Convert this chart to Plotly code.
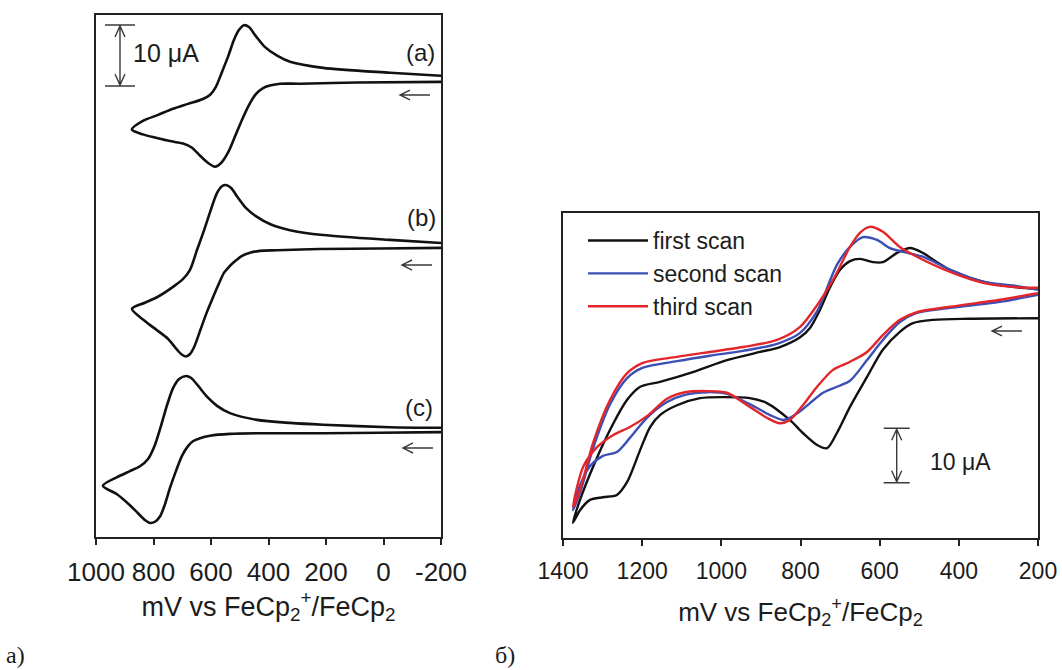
import plotly.graph_objects as go

W, H = 1062, 670

# ---------------- Panel a) : three CVs (a), (b), (c) -----------------
# potential (mV) and current (uA, stacked)
A_E = [-200, 92, 290, 360, 395, 419, 444, 468, 492, 517, 541, 565, 586, 610, 638, 666, 697, 743, 788, 837, 875,
       837, 784, 732, 680, 628, 603, 583, 562, 541, 520, 503, 485, 468, 444, 412, 370, 325, 210, -23, -200]
A_I = [74.6, 74.5, 74.3, 74.3, 74.0, 73.6, 72.6, 70.8, 68.4, 65.6, 63.0, 61.3, 60.7, 61.3, 62.5, 63.8, 64.5, 64.9, 65.4, 66.0, 66.8,
       68.2, 69.2, 70.2, 71.0, 71.8, 72.5, 73.8, 76.2, 78.7, 81.5, 83.1, 83.9, 83.6, 82.1, 80.3, 78.9, 77.9, 76.9, 76.1, 75.6]

B_E = [-200, 12, 221, 370, 430, 464, 492, 517, 537, 555, 572, 593, 614, 638, 659, 673, 687, 704, 725, 750, 788, 830, 875,
       830, 788, 732, 697, 673, 649, 624, 603, 579, 562, 548, 530, 506, 478, 444, 395, 325, 210, -23, -200]
B_I = [47.4, 47.3, 47.2, 47.0, 46.9, 46.6, 46.1, 45.2, 44.3, 43.3, 41.6, 39.3, 36.9, 33.8, 31.1, 30.0, 29.6, 30.0, 31.1, 32.5, 33.9, 35.4, 37.4,
       38.4, 39.3, 41.0, 42.3, 43.8, 47.0, 50.3, 53.3, 56.4, 57.5, 57.7, 57.2, 55.6, 53.9, 52.6, 51.3, 50.3, 49.5, 48.7, 48.2]

C_E = [-200, 12, 210, 325, 440, 534, 603, 638, 663, 680, 701, 722, 743, 760, 777, 795, 812, 830, 854, 882, 927, 976,
       927, 882, 847, 819, 795, 774, 753, 732, 711, 687, 670, 645, 614, 579, 534, 440, 325, 210, -23, -200]
C_I = [17.2, 17.1, 17.0, 17.0, 17.0, 16.9, 16.6, 16.2, 15.7, 14.9, 13.3, 10.8, 8.0, 5.4, 3.4, 2.5, 2.3, 2.8, 3.9, 5.2, 7.0, 8.4,
       9.8, 10.8, 11.6, 12.8, 15.1, 18.2, 21.6, 24.4, 25.9, 26.4, 26.1, 24.8, 23.0, 21.5, 20.3, 19.2, 18.7, 18.4, 18.0, 17.9]

LEFT_TICKS = [1000, 800, 600, 400, 200, 0, -200]
LEFT_TICKTEXT = ["1000", "800", "600", "400", "200", "0", "-200"]

# ---------------- Panel б) : three successive scans -----------------
S1_E = [200, 372, 465, 516, 549, 592, 632, 675, 708, 733, 758, 794, 827, 885, 928, 996, 1054, 1112, 1155, 1180, 1205, 1238, 1264, 1299, 1332, 1357, 1375,
        1357, 1324, 1281, 1238, 1205, 1155, 1072, 986, 902, 852, 801, 776, 751, 726, 700, 675, 650, 617, 592, 556, 523, 491, 455, 422, 339, 253, 200]
S1_I = [40.4, 40.3, 40.1, 39.5, 37.9, 34.6, 29.6, 24.1, 19.3, 16.5, 17.1, 19.3, 21.7, 24.8, 25.7, 25.9, 25.7, 24.4, 22.6, 20.4, 16.2, 10.3, 7.9, 7.5, 7.0, 5.1, 2.8,
        7.0, 13.1, 19.9, 25.4, 27.8, 28.7, 30.5, 32.7, 34.2, 35.1, 36.9, 38.6, 41.9, 46.0, 49.3, 50.9, 51.3, 50.7, 50.7, 52.4, 53.3, 52.4, 50.7, 49.3, 47.1, 46.1, 45.8]

S2_E = [200, 296, 422, 506, 549, 592, 632, 675, 708, 743, 776, 801, 827, 844, 877, 928, 986, 1036, 1092, 1137, 1188, 1231, 1264, 1299, 1332, 1357, 1375,
        1357, 1324, 1281, 1238, 1198, 1112, 1029, 945, 859, 801, 758, 743, 708, 675, 642, 607, 574, 541, 491, 422, 339, 253, 200]
S2_I = [44.7, 43.4, 42.3, 41.4, 39.7, 36.4, 32.7, 28.9, 27.8, 26.7, 24.8, 23.3, 22.1, 21.7, 22.6, 24.6, 26.5, 26.8, 26.3, 25.0, 22.1, 18.4, 15.8, 15.1, 13.2, 9.7, 5.1,
        8.3, 16.5, 24.6, 29.4, 31.3, 32.5, 33.5, 34.4, 35.7, 37.7, 41.7, 44.1, 50.2, 53.5, 55.3, 54.8, 53.3, 52.6, 51.7, 49.3, 47.1, 46.3, 45.6]

S3_E = [200, 296, 422, 506, 549, 592, 632, 675, 718, 758, 794, 827, 852, 885, 928, 986, 1036, 1092, 1137, 1188, 1231, 1274, 1314, 1349, 1375,
        1357, 1324, 1281, 1238, 1198, 1112, 1029, 945, 859, 801, 758, 718, 675, 650, 625, 592, 549, 506, 422, 339, 253, 200]
S3_I = [45.0, 43.8, 42.5, 41.5, 40.1, 37.3, 34.2, 32.4, 30.9, 27.8, 24.4, 21.7, 21.1, 22.1, 24.1, 26.7, 27.0, 26.8, 25.6, 22.4, 20.4, 18.9, 16.7, 13.1, 5.7,
        8.8, 17.5, 25.4, 30.3, 32.2, 33.3, 34.2, 35.1, 36.4, 38.8, 42.8, 47.4, 53.5, 56.1, 57.2, 56.3, 53.5, 51.7, 48.9, 46.9, 46.1, 46.0]

SCAN_NAMES = ["first scan", "second scan", "third scan"]
SCAN_COLORS = ["#111111", "#3b4fb5", "#e2262c"]
RIGHT_TICKS = [1400, 1200, 1000, 800, 600, 400, 200]

AXIS_TITLE = "mV vs FeCp<sub>2</sub><sup>+</sup>/FeCp<sub>2</sub>"
FONT = "Liberation Sans, Arial, sans-serif"
INK = "#1c1c1c"


def P(x, y):
    return x / W, 1 - y / H


def path(points):
    s = ""
    for i, (x, y) in enumerate(points):
        X, Y = P(x, y)
        s += ("M" if i == 0 else " L") + f"{X:.5f},{Y:.5f}"
    return s


fig = go.Figure()

for E, I in [(A_E, A_I), (B_E, B_I), (C_E, C_I)]:
    fig.add_trace(go.Scatter(x=E, y=I, mode="lines", xaxis="x", yaxis="y",
                             line=dict(color="#111111", width=2.6, shape="spline", smoothing=0.8),
                             showlegend=False, hoverinfo="skip"))

for E, I, name, col in zip([S1_E, S2_E, S3_E], [S1_I, S2_I, S3_I], SCAN_NAMES, SCAN_COLORS):
    fig.add_trace(go.Scatter(x=E, y=I, mode="lines", xaxis="x2", yaxis="y2", name=name,
                             line=dict(color=col, width=2.4, shape="spline", smoothing=0.8)))

shapes = []
gray = "#3a3a3a"
# scan-direction arrows
for (x0, x1, y) in [(400, 430, 95), (402, 432, 265), (403, 433, 448), (992, 1022, 331)]:
    shapes.append(dict(type="path", xref="paper", yref="paper",
                       path=path([(x1, y), (x0, y)]) + " " + path([(x0 + 10, y - 5), (x0, y), (x0 + 10, y + 5)]),
                       line=dict(color=gray, width=1.4)))
# scale bars
for (xc, yt, yb, half) in [(120, 25, 86, 15), (896.7, 428.3, 482.7, 13)]:
    shapes.append(dict(type="path", xref="paper", yref="paper",
                       path=path([(xc - half, yt), (xc + half, yt)]) + " " + path([(xc - half, yb), (xc + half, yb)]) + " " +
                       path([(xc, yt + 1), (xc, yb - 1)]) + " " +
                       path([(xc - 5, yt + 12), (xc, yt + 1), (xc + 5, yt + 12)]) + " " +
                       path([(xc - 5, yb - 12), (xc, yb - 1), (xc + 5, yb - 12)]),
                       line=dict(color=gray, width=1.4)))

annotations = []


def txt(x, y, s, size, family=FONT, xanchor="center"):
    X, Y = P(x, y)
    annotations.append(dict(x=X, y=Y, xref="paper", yref="paper", text=s, showarrow=False,
                            xanchor=xanchor, yanchor="middle", font=dict(size=size, family=family, color=INK)))


txt(420, 52, "(a)", 24)
txt(421, 217, "(b)", 24)
txt(419, 407, "(c)", 24)
txt(131, 53, "10 μA", 25, xanchor="left")
txt(928, 462, "10 μA", 23, xanchor="left")
txt(15, 655, "a)", 24, family="Liberation Serif, Times New Roman, serif")
txt(505, 655, "б)", 24, family="Liberation Serif, Times New Roman, serif")

axis_common = dict(showgrid=False, zeroline=False, showline=True, linewidth=2, linecolor="#222",
                   mirror=True, automargin=False)

fig.update_layout(
    width=W, height=H, margin=dict(l=0, r=0, t=0, b=0),
    paper_bgcolor="white", plot_bgcolor="white",
    font=dict(family=FONT, color=INK),
    xaxis=dict(domain=[96 / W, 441 / W], range=[1000, -200], tickvals=LEFT_TICKS, ticktext=LEFT_TICKTEXT,
               ticks="outside", ticklen=6, tickwidth=1.5, tickcolor="#222", ticklabelstandoff=5,
               tickfont=dict(size=26, family=FONT, color=INK), anchor="y",
               title=dict(text=AXIS_TITLE, font=dict(size=27, family=FONT, color=INK), standoff=0),
               **axis_common),
    yaxis=dict(domain=[1 - 537 / H, 1 - 15 / H], range=[0, 85.57], showticklabels=False, ticks="",
               anchor="x", **axis_common),
    xaxis2=dict(domain=[563 / W, 1038 / W], range=[1400, 200], tickvals=RIGHT_TICKS,
                ticks="outside", ticklen=6, tickwidth=1.5, tickcolor="#222", ticklabelstandoff=5,
                tickfont=dict(size=23, family=FONT, color=INK), anchor="y2",
                title=dict(text=AXIS_TITLE, font=dict(size=26, family=FONT, color=INK), standoff=20),
                **axis_common),
    yaxis2=dict(domain=[1 - 538 / H, 1 - 213 / H], range=[0, 59.74], showticklabels=False, ticks="",
                anchor="x2", **axis_common),
    legend=dict(x=583 / W, y=1 - 219 / H, xanchor="left", yanchor="top", bgcolor="rgba(0,0,0,0)",
                font=dict(size=23, family=FONT, color=INK), itemwidth=60, tracegroupgap=0),
    shapes=shapes, annotations=annotations,
)

fig.write_html("out.html", config={"displayModeBar": False},
               post_script="document.body.style.margin='0';document.body.style.overflow='hidden';")
